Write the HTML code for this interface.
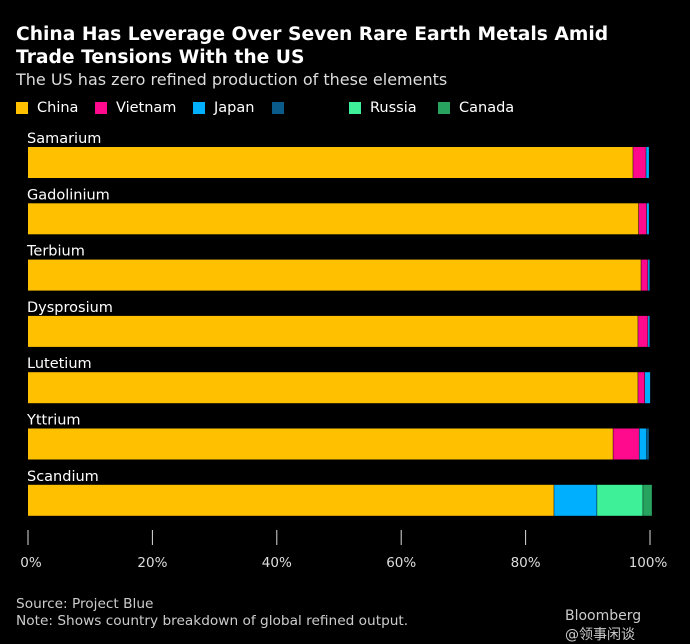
<!DOCTYPE html>
<html><head><meta charset="utf-8"><style>
body{margin:0;background:#000;width:690px;height:643px;overflow:hidden;font-family:"DejaVu Sans","Liberation Sans",sans-serif;color:#fff;position:relative}
.t{position:absolute;left:16px;font-weight:bold;font-size:18.7px;line-height:23px}
.leg{position:absolute;top:99px;height:18px;font-size:14.5px;display:flex;align-items:center}
.sw{width:12px;height:12px;display:inline-block;margin-right:9px}
</style></head><body>
<div class="t" style="top:23px">China Has Leverage Over Seven Rare Earth Metals Amid<br>Trade Tensions With the US</div>
<div style="position:absolute;left:16px;top:70px;font-size:16px;color:#ddd">The US has zero refined production of these elements</div>
<div id="legend"></div>
<svg id="c" width="690" height="643" style="position:absolute;left:0;top:0"></svg>
<div style="position:absolute;left:16px;top:596px;font-size:13.7px;color:#ccc;line-height:17px">Source: Project Blue<br>Note: Shows country breakdown of global refined output.</div>
<div style="position:absolute;left:565px;top:608px;font-size:14px;color:#ccc">Bloomberg<br>@领事闲谈</div>
<script>
const categories=["Samarium","Gadolinium","Terbium","Dysprosium","Lutetium","Yttrium","Scandium"];
const seriesNames=["China","Vietnam","Japan","Other","Russia","Canada"];
const china=[97.3,98.2,98.6,98.1,98.1,94.1,84.6];
const vietnam=[2.1,1.3,1.1,1.6,1.1,4.2,0];
const japan=[0.5,0.4,0.3,0.3,0.9,1.2,6.9];
const other=[0,0,0,0,0,0.4,0];
const russia=[0,0,0,0,0,0,7.4];
const canada=[0,0,0,0,0,0,1.4];
const ticks=[0,20,40,60,80,100];
const colors=["#ffc000","#ff0a8c","#00b0ff","#0a5a8a","#3ef098","#27a35f"];
const series=[china,vietnam,japan,other,russia,canada];
const ns="http://www.w3.org/2000/svg";
const svg=document.getElementById('c');
const x=v=>28+v*6.22;
const y=i=>147+i*56.3;
function el(t,a){const e=document.createElementNS(ns,t);for(const k in a)e.setAttribute(k,a[k]);svg.appendChild(e);return e;}
const lg=document.getElementById('legend');
const lx=[16,95,193,272,349,438];
seriesNames.forEach((n,i)=>{const d=document.createElement('div');d.className='leg';d.style.left=lx[i]+'px';


d.innerHTML='<span class="sw" style="background:'+colors[i]+'"></span>'+(n==="Other"?"":n);lg.appendChild(d);});
categories.forEach((c,i)=>{
const t=el('text',{x:27,y:y(i)-4,fill:'#fff','font-size':14.5});t.textContent=c;


let acc=0;
series.forEach((s,j)=>{if(s[i]<=0)return;const r=el('rect',{x:x(acc),y:y(i),width:Math.max(0,x(acc+s[i])-x(acc)-(j<series.length-1?0.5:0)),height:31,fill:colors[j]});


acc+=s[i];});
});
ticks.forEach(v=>{const l=el('line',{x1:x(v),x2:x(v),y1:530,y2:545,stroke:'#ddd','stroke-width':1});


const t=el('text',{x:x(v)+(v==0?3:v==100?-2:0),y:567,fill:'#ddd','font-size':13.5,'text-anchor':'middle'});t.textContent=v+'%';

});
</script>
</body></html>
